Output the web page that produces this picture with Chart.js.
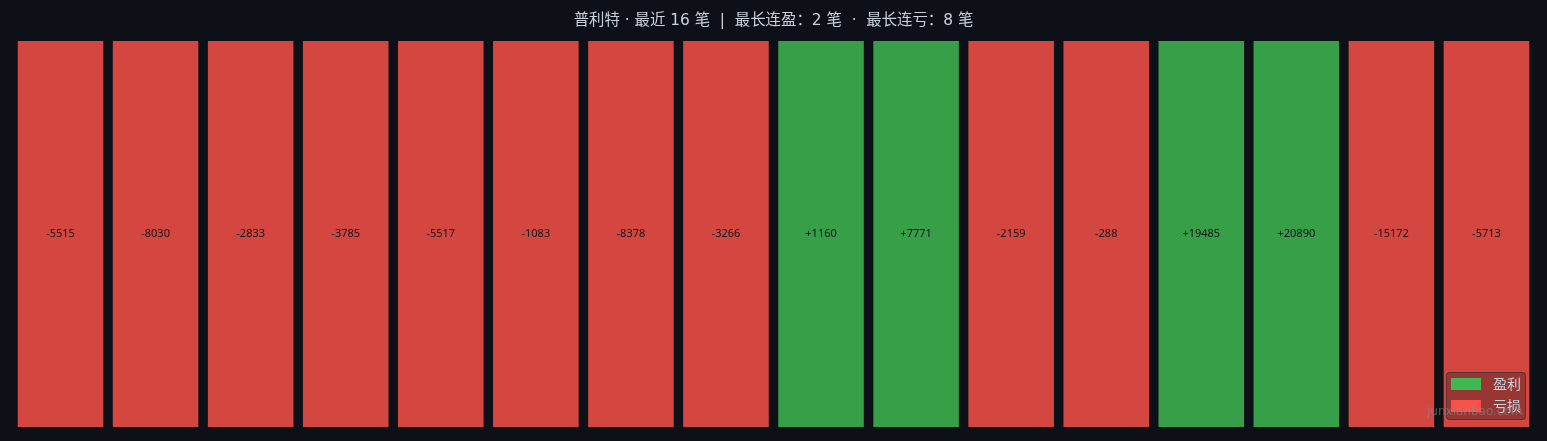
<!DOCTYPE html>
<html><head><meta charset="utf-8">
<script src="https://cdn.jsdelivr.net/npm/chart.js@4/dist/chart.umd.min.js"></script>
<style>
html,body{margin:0;padding:0;background:#0d1117;overflow:hidden;}
#wrap{position:relative;width:1547px;height:441px;}
#legend{position:absolute;left:1446px;top:372px;width:80px;height:48px;box-sizing:border-box;background:rgba(13,17,23,0.3);border:1px solid rgba(40,44,50,0.6);border-radius:4px;font-family:"Noto Sans CJK SC","Noto Sans",sans-serif;font-size:14px;color:#c9d1d9;}
.item{position:absolute;left:4px;height:13px;width:72px;}
.sw{position:absolute;left:0;top:0;width:30px;height:12px;}
.lb{position:absolute;left:42px;top:-5px;line-height:20px;}
#wm{position:absolute;left:1427px;top:404px;font-family:"DejaVu Sans",sans-serif;font-size:12px;color:rgba(140,140,140,0.55);white-space:nowrap;}
</style></head>
<body><div id="wrap"><canvas id="c" width="1547" height="441"></canvas>
<div id="legend">
 <div class="item" style="top:5px"><div class="sw" style="background:#3fb950"></div><div class="lb">盈利</div></div>
 <div class="item" style="top:27px"><div class="sw" style="background:#f85149"></div><div class="lb">亏损</div></div>
</div>
<div id="wm">junxianbao.com</div>
</div>
<script>
const categories = ["1","2","3","4","5","6","7","8","9","10","11","12","13","14","15","16"];
const pnl = [-5515,-8030,-2833,-3785,-5517,-1083,-8378,-3266,1160,7771,-2159,-288,19485,20890,-15172,-5713];
const barHeights = [1,1,1,1,1,1,1,1,1,1,1,1,1,1,1,1];
const titleText = "普利特 · 最近 16 笔  |  最长连盈：2 笔  ·  最长连亏：8 笔";
const winColor = "rgba(63,185,80,0.85)";
const lossColor = "rgba(248,81,73,0.85)";

const labelPlugin = {
  id: 'barLabels',
  afterDatasetsDraw(chart) {
    const ctx = chart.ctx;
    const meta = chart.getDatasetMeta(0);
    const area = chart.chartArea;
    const yMid = (area.top + area.bottom) / 2;
    ctx.save();
    ctx.font = '11px "Noto Sans", "DejaVu Sans", sans-serif';
    ctx.fillStyle = '#111418';
    ctx.textAlign = 'center';
    ctx.textBaseline = 'middle';
    meta.data.forEach((bar, i) => {
      const v = pnl[i];
      ctx.fillText((v > 0 ? '+' : '') + v, bar.x, yMid);
    });
    ctx.restore();
  }
};

new Chart(document.getElementById('c'), {
  type: 'bar',
  data: {
    labels: categories,
    datasets: [{
      data: barHeights,
      backgroundColor: pnl.map(v => v > 0 ? winColor : lossColor),
      borderWidth: 0,
      barPercentage: 1.0,
      categoryPercentage: 0.9
    }]
  },
  options: {
    responsive: false,
    animation: false,
    devicePixelRatio: 1,
    layout: { padding: { left: 13, right: 13, top: 0, bottom: 14 } },
    scales: {
      x: { display: false, offset: true },
      y: { display: false, min: 0, max: 1 }
    },
    plugins: {
      legend: { display: false },
      tooltip: { enabled: false },
      title: {
        display: true,
        text: titleText,
        color: '#c9d1d9',
        font: { size: 15.4, family: '"DejaVu Sans", "Noto Sans CJK SC", sans-serif', weight: 'normal', lineHeight: 1.2 },
        padding: { top: 11.5, bottom: 11 }
      }
    }
  },
  plugins: [labelPlugin]
});
</script></body></html>
